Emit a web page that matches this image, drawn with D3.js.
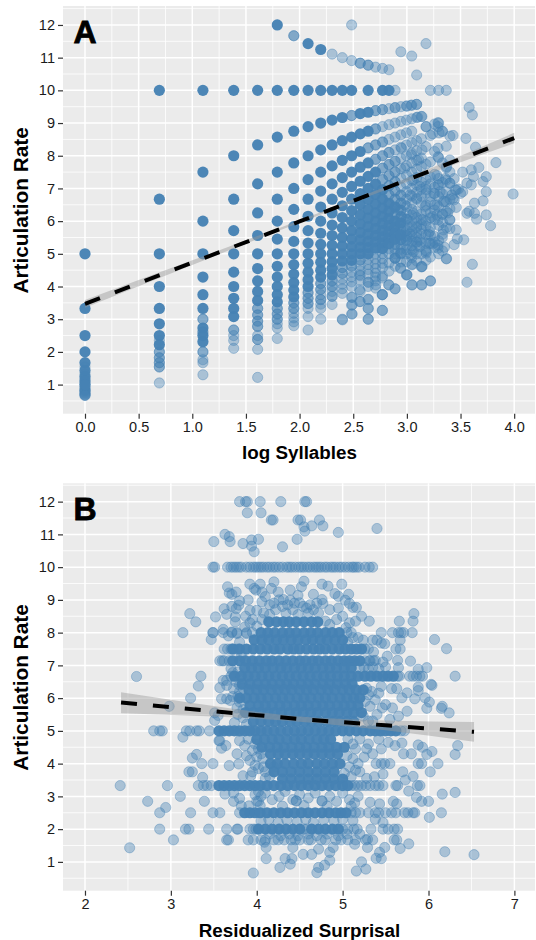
<!DOCTYPE html>
<head>
  <meta charset="utf-8">
  <script src="https://d3js.org/d3.v7.min.js"></script>
  <style>
    body { margin: 0; background: #fff; }
    text { font-family: "Liberation Sans", Arial, sans-serif; }
    .tick text { font-size: 14.5px; fill: #1a1a1a; }
    .tick line { stroke: #333; stroke-width: 1.2; }
    .title { font-weight: bold; fill: #000; text-anchor: middle; }
    .letter { font-size: 32px; font-weight: bold; fill: #000; text-anchor: middle; stroke: #000; stroke-width: 0.8; }
  </style>
</head>
<body>
<script>
// panel A: one column per syllable count (log scale)
var aLogSyllables = [0,.693,1.099,1.386,1.609,1.792,1.946,2.079,2.197,2.303,2.398,2.485,2.565,2.639,2.708,2.773,2.833,2.890,2.944,2.996,3.045,3.091,3.135,3.178,3.219,3.258,3.296,3.332,3.367,3.401];

// rates seen as solid dots (many overlapping observations)
var aHeavy = [
 [5,3.33,2.5,2,1.67,1.43,1.25,1.11,1],
 [10,6.67,5,4,3.33,2.86,2.5,2.22],
 [10,7.5,6,5,4.29,3.75,3.33,2.73,2.5,2.31],
 [10,8,6.67,5.71,5,4.44,4,3.64,3.33,3.08],
 [10,8.33,7.14,6.25,5.56,5,4.55,4.17,3.85,3.57],
 [12,10,8.57,7.5,6.67,6,5.45,5,4.62,4.29,4,3.75,3.53],
 [10,8.75,7.78,7,6.36,5.83,5.38,5,4.67,4.38,4.12,3.89,3.68],
 [11.43,10,8.89,8,7.27,6.67,6.15,5.71,5.33,5,4.71,4.44,4.21,4],
 [11.25,10,9,8.18,7.5,6.92,6.43,6,5.63,5.29,5,4.74,4.5,4.29],
 [10,9.09,8.33,7.69,7.14,6.67,6.25,5.88,5.56,5.26,5,4.76,4.55,4.35],
 [10,9.17,8.46,7.86,7.33,6.88,6.47,6.11,5.79,5.5,5.24,5,4.78],
 [10,8.57,8,7.5,7.06,6.67,6.32,6,5.71,5.45,5.22,5,4.8],
 [9.29,8.67,8.13,7.65,7.22,6.84,6.5,6.19,5.91,5.65,5.42,5.2,5],
 [10,9.33,8.75,7.78,7.37,7,6.67,6.36,6.09,5.83,5.6,5.38,5.19,5],
 [7.5,7.14,6.82,6.52,6.25,6,5.77,5.56,5.36,5.17],
 [10,6.96,6.67,6.4,6.15,5.93,5.71,5.52,5.33,5.16],
 [10,6.54,6.3,6.07,5.86,5.67,5.48,5.31],
 [6.43,6,5.81,5.63,5.45],
 [5.94,5.59],
 [], [], [], [], [], [], [], [], [], [], []
];

// rates seen as pale dots
var aLight = [
 [1.54,1.33,1.18,1.05,.95,.91,.87,.83,.83,.8,.77,.74,.71,.69,.67,.67],
 [2.35,2,2,1.82,1.82,1.67,1.67,1.54,1.54,1.05],
 [3,3,2.61,2.61,2,2,1.76,1.67,1.3],
 [2.67,2.67,2.5,2.35,2.11],
 [3.33,3.33,3.13,3.13,2.94,2.94,2.78,2.78,2.5,2.38,2.38,2.08,1.22],
 [3.33,3.33,3.16,3.16,3,3,2.86,2.73,2.41],
 [11.67,11.67,3.5,3.5,3.33,3.33,3.18,3.04,2.92,2.8],
 [3.81,3.81,3.64,3.64,3.48,3.48,3.33,3.08,2.67],
 [4.09,4.09,3.91,3.91,3.75,3.6,3.6,3.46,3.33,3],
 [11.11,4.17,4.17,4,4,3.85,3.7,3.7,3.45],
 [11,4.58,4.58,4.4,4.4,4.23,4.07,3.93,3.79,3],
 [12,10.91,9.23,9.23,4.62,4.62,4.44,4.29,4.14,4,3.67,3.43,3.16],
 [10.83,10.83,4.81,4.81,4.64,4.48,4.33,4.19,3.85,3.54],
 [10.77,10.77,8.24,8.24,4.83,4.67,4.52,4.38,4,3.6,3.33,3],
 [10.71,9.38,9.38,8.82,8.82,8.33,8.33,7.89,7.89,5,4.84,4.69,4.55,4.41,4.29,4.17,3.95],
 [10.67,9.41,9.41,8.89,8.42,8.42,8,8,7.62,7.62,7.27,7.27,5,4.85,4.71,4.57,4.32,3.75,3.27],
 [10.63,9.44,8.95,8.5,8.1,8.1,7.73,7.73,7.39,7.39,7.08,7.08,6.8,6.8,5.15,5,4.72,4.47,4.05],
 [10,9.47,9.47,9,8.57,8.18,7.83,7.83,7.5,7.5,7.2,7.2,6.92,6.92,6.67,6.67,6.21,6.21,5.29,5.29,5.14,5,4.86,4.62,3.93],
 [11.18,9.5,9.05,8.64,8.26,7.92,7.6,7.31,7.04,6.79,6.79,6.55,6.55,6.33,6.33,6.13,6.13,5.76,5.76,5.43,5.43,5.28,5.14,5,4.75,4.56],
 [9.52,9.09,8.7,8.33,8,7.69,7.41,7.14,6.9,6.67,6.45,6.25,6.06,6.06,5.88,5.71,5.71,5.56,5.41,5.41,5.26,5.13,5,4.76,4.35],
 [11.05,9.55,9.13,8.75,8.4,8.08,7.78,7.5,7.24,7,6.77,6.56,6.36,6.18,6,5.83,5.68,5.53,5.38,5.25,5.12,4.88,4.66,4.05],
 [10.47,9.57,9.17,8.46,8.15,7.86,7.59,7.33,7.1,6.88,6.67,6.29,6.11,5.95,5.79,5.64,5.5,5.37,5.24,5,4.78],
 [9.2,8.52,7.93,7.67,7.19,6.97,6.76,6.57,6.22,6.05,5.9,5.75,5.61,5.35,5,4.6,4.05],
 [11.43,8.89,8.28,7.74,7.27,7.06,6.86,6.49,6.32,6,5.85,5.58,5.33,5.11,4.8],
 [10,8.62,7.81,7.35,7.14,6.76,6.58,6.25,6.1,5.81,5.56,5.32,4.9,4.17],
 [8.97,8.13,7.43,7.03,6.84,6.5,6.34,6.05,5.53,5.2],
 [10,9,7.94,7.3,7.11,6.75,6.43,5.87,5.4,5],
 [8.75,7.78,7.18,6.83,6.22,5.96,5.6,5.09],
 [10,8.29,7.63,7.25,6.9,6.59,6.3,5.8,4.85],
 [8.6,7.5,7.16,6.67,6.38,5.77]
];

// stray points of panel A as [log syllables, rate]
var aStray = [[3,9.52],[3.04,9.54],[3.09,9.57],[3.1,9.18],[3.14,9.2],[3.29,9.01],[3.29,8.89],[3.18,8.89],[3.24,8.67],[3.33,8.74],[3.3,8.7],[3.43,8.62],[3.55,8.53],[3.64,8.26],[3.83,7.79],[3.99,6.83],[3.58,9.48],[3.61,9.25],[3.29,8.23],[3.29,7.97],[3.4,7.87],[3.37,7.67],
 [3.6,7.57],[3.67,7.64],[3.62,7.36],[3.74,7.36],[3.71,7.21],[3.56,7.16],[3.6,7.11],[3.74,6.9],[3.46,6.95],[3.43,6.7],[3.71,6.62],[3.63,6.55],[3.56,6.24],[3.63,6.24],[3.65,6.06],[3.74,6.19],[3.4,6.04],[3.78,5.86],[3.46,5.73],[3.34,5.73],[3.29,6.04],[3.29,7.11],[3.4,7.16],[3.31,6.9],[3.5,6.85],[3.35,6.6],[3.44,6.65],[3.24,6.14],[3.48,6.98],[3.42,6.8],[3.52,6.9],[3.58,6.3],[3.36,7.3],[3.28,7.4],[3.44,7.3],[3.33,6.2],[3.38,6.25],[3.46,6.42],[3.52,7.5],
 [3.61,4.68],[3.56,4.13],[3.44,5.28],[3.47,5.46],[3.53,5.43],[3.37,4.85],[3.29,5.17],[3.22,4.17],[3.14,4.05],[3.05,4.05],[3.14,4.61],[3.14,4.61],[3.05,4.68],[3,4.36],[3,4.36],[2.89,3.93],[2.83,4.05],[2.77,4.26],[2.77,3.75],[2.77,3.75],[2.77,3.27],[2.64,3],[2.64,3.33],[2.64,3.61],[2.64,4.13],[2.64,4.13],[2.71,4.05],[2.56,3.54],[2.49,3.16],[2.49,3.44],[2.49,3.67],[2.4,2.98],[2.56,3.9],[2.56,4.36],[2.89,4.87],[2.89,4.87],[2.94,5.02],[2.94,4.56],[3.18,5.02],[3.26,5.35],[3.35,5.2],[3.2,5.6],[3.24,5.3],[3.33,5.5],[3.09,5.35],[3.03,5.6],
 [3.03,6.8],[3.09,6.7],[3.18,6.96],[3.25,6.85],[3.17,6.45],[3.06,6.24],[3.15,6.04],[3.28,6.19],[3.21,5.68],[3.12,5.43],[3.21,5.32],[3.06,5.07],[3.12,5.22],[2.95,5.02],[3,5.53],[2.94,5.43],[3.09,5.83],[3.01,6.04],[2.95,6.14],[2.98,6.5],[2.92,6.34],[3.29,5.27],[3.18,5.07],[3.04,4.97],[3.45,6.96],[3.34,6.6],[3.4,6.04],[3.28,6.5],[3.12,7.06],[3.06,7.26],[2.98,7.62],[3.04,8.03],[3.11,7.87],[3.14,8.18],[2.95,8.23]];

var aFitX = [0,1,2,2.5,3,4];
var aFitY = [3.47,4.73,5.99,6.62,7.26,8.54];
var aFitLow = [3.35,4.66,5.95,6.58,7.2,8.38];
var aFitHigh = [3.59,4.8,6.03,6.66,7.32,8.7];

// panel B: rows of repeated rates, [rate, surprisal values]
var bHeavyRates = [8.33,8,7.78,7.5,7.14,6.92,6.67,6.43,6.25,6,5.77,5.56,5.29,5,4.74,4.5,4.29,4,3.75,3.53,3.33,2.5,2];
var bHeavyX = [
 [4.14,4.23,4.31,4.38,4.46,4.55,4.64,4.71],
 [4.05,4.13,4.21,4.3,4.38,4.46,4.55,4.63,4.71,4.8,4.88,4.96],
 [3.97,4.06,4.14,4.23,4.31,4.4,4.48,4.57,4.65,4.74,4.82,4.91,5],
 [3.72,3.8,3.88,3.96,4.04,4.12,4.2,4.27,4.36,4.43,4.5,4.58,4.66,4.73,4.8,4.88,4.96,5.03,5.1,5.16,5.22],
 [3.72,3.8,3.87,3.95,4.03,4.11,4.18,4.26,4.34,4.42,4.5,4.57,4.65,4.72,4.8,4.87,4.95,5.02,5.08,5.14,5.2],
 [3.86,3.94,4.02,4.1,4.19,4.28,4.35,4.44,4.52,4.6,4.68,4.77,4.85,4.93,5.02,5.1],
 [3.74,3.82,3.9,3.98,4.06,4.14,4.22,4.3,4.38,4.46,4.54,4.62,4.7,4.78,4.86,4.94,5.02,5.1,5.18,5.26,5.33,5.4,5.47,5.53,5.59],
 [3.83,3.92,4.01,4.1,4.18,4.27,4.35,4.43,4.52,4.6,4.68,4.77,4.85,4.94,5.03,5.11],
 [3.91,4,4.08,4.17,4.25,4.33,4.41,4.5,4.58,4.66,4.75,4.83,4.91,5,5.08,5.16,5.24],
 [3.8,3.88,3.97,4.05,4.13,4.22,4.3,4.38,4.47,4.55,4.63,4.72,4.8,4.88,4.97,5.05,5.13,5.2],
 [3.92,4.02,4.1,4.18,4.27,4.35,4.44,4.52,4.6,4.69,4.77,4.85,4.94,5.02,5.1,5.18],
 [3.87,3.96,4.04,4.13,4.21,4.29,4.38,4.46,4.54,4.63,4.71,4.8,4.88,4.96,5.05,5.13,5.22],
 [3.96,4.05,4.14,4.22,4.3,4.39,4.47,4.56,4.64,4.72,4.81,4.89,4.97,5.05,5.13],
 [3.56,3.62,3.68,3.74,3.8,3.86,3.92,3.98,4.05,4.12,4.2,4.28,4.36,4.44,4.52,4.6,4.68,4.76,4.84,4.92,5,5.08,5.16,5.24,5.32,5.38,5.44,5.5,5.56,5.62],
 [4,4.09,4.18,4.26,4.35,4.44,4.52,4.61,4.7,4.78,4.86],
 [4.06,4.15,4.24,4.32,4.41,4.5,4.58,4.67,4.76,4.84,4.93,5.02],
 [4.16,4.25,4.33,4.42,4.5,4.59,4.67,4.76,4.85,4.94],
 [4.16,4.24,4.33,4.43,4.52,4.6,4.7,4.79,4.88,4.97],
 [4.2,4.3,4.4,4.5,4.6,4.7,4.8,4.9],
 [4.3,4.4,4.5,4.6,4.7,4.8,4.9,5],
 [3.56,3.62,3.68,3.74,3.8,3.86,3.92,3.98,4.04,4.12,4.2,4.28,4.36,4.44,4.52,4.6,4.68,4.76,4.84,4.92,5,5.06],
 [3.86,3.92,3.98,4.04,4.12,4.2,4.28,4.36,4.44,4.52,4.6,4.68,4.76,4.84,4.92,4.98,5.04],
 [4.02,4.1,4.18,4.26,4.34,4.42,4.5,4.64,4.72,4.8,4.88,4.95]
];

var bLightRates = [10,8,7.5,7.14,6.67,5,3.33,2.5,2,1.67];
var bLightX = [
 [3.49,3.51,3.66,3.7,3.73,3.76,3.79,3.82,3.88,3.92,3.96,3.99,4.02,4.05,4.08,4.12,4.15,4.19,4.22,4.26,4.3,4.35,4.38,4.41,4.45,4.49,4.52,4.55,4.59,4.62,4.66,4.69,4.72,4.75,4.79,4.82,4.86,4.89,4.92,4.96,4.99,5.03,5.07,5.11,5.13,5.16,5.19,5.26,5.31,5.35],
 [3.49,3.61,3.71,3.77,3.88,3.95,5.05,5.45,5.58,5.65,5.68,5.71,5.81],
 [3.62,3.66,3.7,3.73,3.78,5.26,5.3,5.62,5.67],
 [3.57,3.6,3.62,3.68,5.26,5.31,5.36],
 [3.7,5.64,5.66,5.78,5.82,5.86,5.9,5.93,6.31],
 [2.8,2.87,2.9,3.18,3.22,3.3,3.33,3.45,5.68,5.72],
 [2.41,2.96,3.32,3.38,3.42,3.47,5.1,5.14,5.18,5.22,5.27,5.32,5.38,5.42,5.47,5.62,5.64,5.87,5.9],
 [2.87,3.23,3.49,3.57,3.8,5.1,5.15,5.2,5.3,5.38,5.42,5.5,5.57,5.62,5.72,5.76,5.82,5.84,6.15],
 [2.87,3.17,3.21,3.44,3.65,3.77,3.78,3.92,3.96,3.99,4.55,4.58,5,5.06,5.13,5.17,5.33,5.47,5.53,5.6,5.64],
 [3.03,3.65,3.67,3.9,3.96,4.05,4.1,4.2,4.25,4.32,4.4,4.45,4.5,4.6,4.63,4.75,4.8,4.92,4.98,5.06,5.15,5.27,5.35,5.6,5.63]
];

// scattered points of panel B as [surprisal, rate]
var bStray = [[2.6,6.66],[3.22,8.58],[3.29,8.33],[3.14,8],[3.52,8.48],[3.49,8],[3.47,7.79],[3.61,8.1],[3.35,6.67],[3.32,6.37],[3.23,6],[2.98,5.75],
 [3.5,10.78],[3.63,11],[3.68,10.93],[3.69,10.78],[3.84,10.72],[3.94,10.83],[4.02,10.85],[3.94,10.64],[3.97,10.47],[3.8,12],[3.87,12],[3.89,12],[4.04,12],[3.89,11.66],[4.05,11.66],[4.17,11.44],
 [3.66,9.4],[3.68,9.21],[3.76,9.24],[3.71,9.17],[3.92,9.48],[3.97,9.35],[3.99,9.3],[4.04,9.48],[4.06,9.24],[3.62,8.73],[3.65,8.56],[3.71,8.8],[3.8,8.97],[3.9,9],[3.76,8.73],[3.79,8.84],[3.75,8.48],[3.75,8.33],[3.67,7.9],[3.71,8.02],[3.77,7.97],[3.88,7.97],[3.86,8.17],[3.92,8.68],[4,8.68],[4.06,8.94],[3.8,7.71],[3.95,8.4],[3.87,8.5],
 [3.61,6.54],[3.65,6.54],[3.57,6.32],[3.65,6.39],[3.73,6.29],[3.59,5.98],[3.65,5.98],[3.69,5.93],[3.72,6.05],[3.7,6.9],[3.78,6.8],[3.82,7.3],[3.84,6.3],[3.78,6.05],[3.77,5.7],[3.84,5.4],[3.78,5.5],[3.74,5.25],[3.8,5.88],[3.76,6.5],[3.8,6.2],[3.84,5.65],[3.88,5.2],[3.72,6.78],[3.8,6.4],
 [3.14,4.81],[3.51,5.32],[3.55,5.47],[3.51,5.55],[3.56,4.7],[3.57,4.7],[3.59,4.47],[3.64,4.55],[3.3,4.28],[3.25,4.17],[3.36,4],[3.49,4],[3.68,3.94],[3.21,3.75],[3.25,3.75],[3.37,3.58],
 [3.11,3],[2.73,2.85],[2.94,2.66],[3.39,2.85],[3.63,3.07],[3.73,3.1],[3.73,2.85],[3.8,2.94],[3.82,2.71],[3.91,2.71],[4,2.85],[4.02,2.85],[3.77,4.3],[3.79,3.99],[3.88,4.24],[3.84,3.63],[3.93,3.63],[3.8,4.7],[3.86,4.55],[3.95,4.4],[3.92,4.1],[4.02,3.85],[3.95,3.75],[4.1,3.55],[4.05,4.3],[4.05,3],[3.9,4.75],[3.98,4.6],[4.02,4.45],[4.07,4.15],[4,4.2],[4.08,3.9],[4.1,3.75],[4.15,3.6],[4.2,3.9],[3.98,3.95],
 [2.52,1.43],[3.96,.66],[4.11,1.1],[4.11,1.44],[4.09,1.6],[4.27,.83],[4.33,1.1],[4.39,.93],[4.41,1.1],[4.54,1.23],[4.64,1.23],[4.72,1.39],[4.42,1.44],[4.7,.67],[4.72,.83],[4.79,.9],[4.85,1.05],[4.85,1.29],[4.89,1.44],[5.22,1],[5.16,.72],[5.27,.78],[5.39,1.11],[5.45,1.1],[5.43,1.29],[5.49,1.44],[5.67,1.41],[5.77,1.55],[6.19,1.31],[6.53,1.22],[5.29,1.44],[5.29,1.69],[5.14,1.54],
 [6.01,2.36],[5.82,3.61],[5.73,3.5],[5.7,3.75],[6.02,3.75],[6.11,4],[5.88,4],[5.92,4],[5.77,3.16],[6.16,3.07],[6.31,3.12],[5.86,2.97],[5.92,2.85],[6,2.85],[5.63,2.77],[5.59,2.85],[5.43,2.77],[5.32,2.82],[5.18,3],[5.47,2.2],[5.38,2.3],[5.12,2.26],
 [6.31,4.28],[6.34,4.55],[6.04,4.37],[5.98,4.28],[5.93,4.5],[5.88,4.57],[6.24,5.55],[6.15,5.69],[5.98,5.69],[5.8,4.3],[5.69,4.63],[5.53,4.65],[5.61,4.55],[5.71,4.3],[5.55,4],[5.47,3.68],[5.49,4],[5.39,4],[5.45,4],[5.35,4.3],[5.3,4.6],[5.25,4.2],[5.2,3.75],[5.28,3.55],[5.37,3.6],[5.15,4.45],[5.06,4.75],[5.12,4.6],[5.2,4.75],[5.28,4.45],[5.05,4.25],[5.12,4.15],[5.18,4],[5.08,3.9],[5.02,3.7],[5.1,3.6],[5.15,3.8],[5.42,4.75],[5.45,4.45],
 [4.28,12],[4.56,12],[4.58,12],[4.19,11.44],[4.48,11.44],[4.51,11.44],[4.55,11.23],[4.56,11.1],[4.64,11.26],[4.73,11.44],[4.77,11.26],[4.95,11.06],[5.4,11.18],[4.47,10.85],[4.3,10.62],
 [4.76,9.48],[4.83,9.42],[4.99,9.48],[4.66,9.17],[4.91,9.19],[4.95,9.11],[5.07,9.17],[4.55,9.57],[4.52,9.4],[4.2,9.55],[4.17,9.35],[4.25,9.24],[4.39,9.3],[4.48,9.14],[4.39,8.99],[4.31,9.01],[4.5,8.91],[4.76,9.01],[4.77,8.89],[5.03,8.99],[5.08,8.89],[5.16,8.77],[5.12,8.77],[4.1,9.1],[4.15,8.85],[4.22,8.7],[4.3,8.8],[4.42,8.7],[4.58,8.75],[4.66,8.7],[4.85,8.7],[4.95,8.75],[4.2,8.9],[4.26,9],[4.36,8.85],[4.44,8.9],[4.54,8.8],[4.62,8.85],[4.7,8.9],[4.34,8.6],[4.48,8.55],[4.6,8.6],[4.72,8.6],[4.08,8.6],[4.15,8.55],
 [5.31,8.35],[5.83,8.58],[5.66,8.35],[5.82,8.35],[6.07,7.79],[6.21,7.51],[5.67,7.77],[5.35,7.77],[5.4,7.77],[5.49,7.66],[5.45,7.68],[5.24,7.77],[5.79,7.13],[5.64,7.15],[5.88,6.88],[5.98,6.93],[5.65,6.93],[5.52,7.28],[5.36,7.41],[5.38,7.15],[5.32,7.14],[5.47,7.1],[5.5,6.95],[5.42,6.9],[5.25,6.95],[5.2,6.9],[5.3,6.88],[5.35,6.95],
 [6.03,6.42],[6.04,6.39],[5.88,6.34],[5.88,6.23],[5.75,6.16],[5.63,6.29],[5.57,6.29],[5.45,6.36],[5.69,6.01],[5.84,5.98],[5.96,6.01],[6.01,5.88],[6.16,5.75],[5.3,6.1],[5.38,5.95],[5.5,5.8],[5.58,5.7],[5.75,5.6],[5.4,5.5],[5.55,5.35],[5.35,5.3],[5.65,5.45],[5.28,6.3],[5.34,6.2],[5.26,5.9],[5.32,5.75],[5.24,5.45],[5.3,5.3],[5.42,6.15],[5.46,5.7],
 [3.92,8.3],[4,8.2],[4.06,8.4],[4.8,8.35],[4.85,8.25],[4.93,8.4],[5,8.5],[5.08,8.3],[5.15,8.35],[5.22,8.5],[5.04,8.15],[5.1,8],[5.12,7.85],[5.18,7.85],[5.06,7.7],
 [4.1,3.1],[4.18,2.9],[4.26,3],[4.33,3.15],[4.42,2.9],[4.46,2.86],[4.46,2.86],[4.5,3.05],[4.6,2.95],[4.68,3.1],[4.76,2.86],[4.76,2.86],[4.85,3],[4.93,2.85],[5,3.1],[5.08,2.9],[5.14,2.8],[4.02,3.15],[3.98,3.05],[4.04,2.72],[4.3,2.7],[4.55,2.72],[4.82,2.7],[5.1,2.7],
 [4.05,2.25],[4.14,2.3],[4.25,2.2],[4.35,2.28],[4.47,2.22],[4.57,2.3],[4.66,2.2],[4.78,2.28],[4.9,2.25],[5,2.3],[4.15,1.85],[4.28,1.8],[4.38,1.85],[4.48,1.8],[4.6,1.85],[4.7,1.8],[4.82,1.85],[4.95,1.8],[5.05,1.85],[5.2,1.85]];

var bFitX = [2.42,3.5,4.5,5.5,6.53];
var bFitY = [5.87,5.6,5.36,5.17,4.97];
var bFitLow = [5.54,5.44,5.28,5.02,4.67];
var bFitHigh = [6.18,5.76,5.44,5.32,5.27];

var steel = "#4682B4";
var svg = d3.select("body").append("svg").attr("width", 536).attr("height", 940);

function drawPanel(o) {
  var x = d3.scaleLinear().domain(o.xDomain).range([63, 535]);
  var y = d3.scaleLinear().domain(o.yDomain).range([o.bottom, o.top]);
  var g = svg.append("g");

  g.append("rect").attr("x", 63).attr("y", o.top).attr("width", 472).attr("height", o.bottom - o.top).attr("fill", "#EBEBEB");

  g.selectAll(".vm").data(o.xMinor).enter().append("line")
    .attr("x1", x).attr("x2", x).attr("y1", o.top).attr("y2", o.bottom)
    .attr("stroke", "#fff").attr("stroke-width", 0.8);
  g.selectAll(".hm").data(d3.range(0.5, 13, 1)).enter().append("line")
    .attr("x1", 63).attr("x2", 535).attr("y1", y).attr("y2", y)
    .attr("stroke", "#fff").attr("stroke-width", 0.8);
  g.selectAll(".vM").data(o.xTicks).enter().append("line")
    .attr("x1", x).attr("x2", x).attr("y1", o.top).attr("y2", o.bottom)
    .attr("stroke", "#fff").attr("stroke-width", 1.5);
  g.selectAll(".hM").data(d3.range(1, 13)).enter().append("line")
    .attr("x1", 63).attr("x2", 535).attr("y1", y).attr("y2", y)
    .attr("stroke", "#fff").attr("stroke-width", 1.5);

  g.selectAll(".light").data(o.light).enter().append("circle")
    .attr("cx", function(d) { return x(d[0]); })
    .attr("cy", function(d) { return y(d[1]); })
    .attr("r", 5.1)
    .attr("fill", steel).attr("fill-opacity", 0.4)
    .attr("stroke", steel).attr("stroke-opacity", 0.4).attr("stroke-width", 1);
  g.selectAll(".heavy").data(o.heavy).enter().append("circle")
    .attr("cx", function(d) { return x(d[0]); })
    .attr("cy", function(d) { return y(d[1]); })
    .attr("r", 5.6)
    .attr("fill", steel).attr("fill-opacity", 0.97);

  var band = d3.area()
    .x(function(d) { return x(d[0]); })
    .y0(function(d) { return y(d[2]); })
    .y1(function(d) { return y(d[3]); })
    .curve(d3.curveMonotoneX);
  var fit = o.fitX.map(function(v, i) { return [v, o.fitY[i], o.fitLow[i], o.fitHigh[i]]; });
  g.append("path").attr("d", band(fit)).attr("fill", "#999").attr("fill-opacity", 0.45);
  g.append("path")
    .attr("d", d3.line().x(function(d) { return x(d[0]); }).y(function(d) { return y(d[1]); })(fit))
    .attr("fill", "none").attr("stroke", "#000").attr("stroke-width", 4).attr("stroke-dasharray", "16 16");

  g.append("g").attr("transform", "translate(63,0)")
    .call(d3.axisLeft(y).tickValues(d3.range(1, 13)).tickFormat(d3.format("d")).tickSize(5).tickPadding(3))
    .call(function(a) { a.select(".domain").remove(); });
  g.append("g").attr("transform", "translate(0," + o.bottom + ")")
    .call(d3.axisBottom(x).tickValues(o.xTicks).tickFormat(d3.format(o.xFormat)).tickSize(5).tickPadding(3))
    .call(function(a) { a.select(".domain").remove(); });

  g.append("text").attr("class", "title").attr("font-size", 18.8).attr("x", 299.5).attr("y", o.titleY).text(o.xTitle);
  g.append("text").attr("class", "title").attr("font-size", 20.8)
    .attr("transform", "translate(27.5," + ((o.top + o.bottom) / 2 + 0.5) + ") rotate(-90)").text("Articulation Rate");
  g.append("text").attr("class", "letter").attr("x", 85).attr("y", o.letterY).text(o.letter);
}

var aLightPts = [], aHeavyPts = [];
aLogSyllables.forEach(function(v, i) {
  aLight[i].forEach(function(r) { aLightPts.push([v, r]); });
  aHeavy[i].forEach(function(r) { aHeavyPts.push([v, r]); });
});
aStray.forEach(function(d) { aLightPts.push(d); });

var bLightPts = bStray.slice(), bHeavyPts = [];
bLightRates.forEach(function(r, i) { bLightX[i].forEach(function(v) { bLightPts.push([v, r]); }); });
bHeavyRates.forEach(function(r, i) { bHeavyX[i].forEach(function(v) { bHeavyPts.push([v, r]); }); });

drawPanel({
  xDomain: [-0.205, 4.194], yDomain: [0.11, 12.58], top: 6, bottom: 413.7,
  xTicks: [0, .5, 1, 1.5, 2, 2.5, 3, 3.5, 4], xMinor: [.25, .75, 1.25, 1.75, 2.25, 2.75, 3.25, 3.75], xFormat: ".1f",
  light: aLightPts, heavy: aHeavyPts,
  fitX: aFitX, fitY: aFitY, fitLow: aFitLow, fitHigh: aFitHigh,
  xTitle: "log Syllables", titleY: 459, letter: "A", letterY: 43
});
drawPanel({
  xDomain: [1.744, 7.24], yDomain: [0.12, 12.56], top: 483.3, bottom: 890.7,
  xTicks: [2, 3, 4, 5, 6, 7], xMinor: [2.5, 3.5, 4.5, 5.5, 6.5], xFormat: "d",
  light: bLightPts, heavy: bHeavyPts,
  fitX: bFitX, fitY: bFitY, fitLow: bFitLow, fitHigh: bFitHigh,
  xTitle: "Residualized Surprisal", titleY: 937, letter: "B", letterY: 520
});
</script>
</body>
